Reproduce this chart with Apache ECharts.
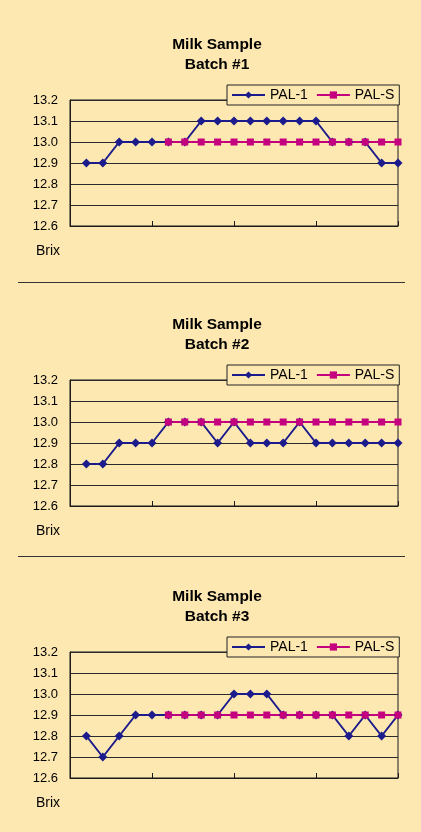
<!DOCTYPE html>
<html>
<head>
<meta charset="utf-8">
<script src="https://cdn.jsdelivr.net/npm/echarts@6/dist/echarts.min.js"></script>
<style>
html,body{margin:0;padding:0;background:#FEE8B2;}
#c{width:421px;height:832px;}
</style>
</head>
<body>
<div id="c"></div>
<script>
// ---- data ----
const samples = [1,2,3,4,5,6,7,8,9,10,11,12,13,14,15,16,17,18,19,20];
const seriesNames = ['PAL-1', 'PAL-S'];
const chartTitles = ['Milk Sample\nBatch #1', 'Milk Sample\nBatch #2', 'Milk Sample\nBatch #3'];
const yAxisName = 'Brix';
const yMin = 12.6;
const yMax = 13.2;
const yStep = 0.1;

const batch1Pal1 = [12.9,12.9,13.0,13.0,13.0,13.0,13.0,13.1,13.1,13.1,13.1,13.1,13.1,13.1,13.1,13.0,13.0,13.0,12.9,12.9];
const batch1PalS = [null,null,null,null,null,13.0,13.0,13.0,13.0,13.0,13.0,13.0,13.0,13.0,13.0,13.0,13.0,13.0,13.0,13.0];
const batch2Pal1 = [12.8,12.8,12.9,12.9,12.9,13.0,13.0,13.0,12.9,13.0,12.9,12.9,12.9,13.0,12.9,12.9,12.9,12.9,12.9,12.9];
const batch2PalS = [null,null,null,null,null,13.0,13.0,13.0,13.0,13.0,13.0,13.0,13.0,13.0,13.0,13.0,13.0,13.0,13.0,13.0];
const batch3Pal1 = [12.8,12.7,12.8,12.9,12.9,12.9,12.9,12.9,12.9,13.0,13.0,13.0,12.9,12.9,12.9,12.9,12.8,12.9,12.8,12.9];
const batch3PalS = [null,null,null,null,null,12.9,12.9,12.9,12.9,12.9,12.9,12.9,12.9,12.9,12.9,12.9,12.9,12.9,12.9,12.9];

const pal1Sets = [batch1Pal1, batch2Pal1, batch3Pal1];
const palSSets = [batch1PalS, batch2PalS, batch3PalS];

// ---- layout / style ----
const BG = '#FEE8B2';
const FONT = '"Liberation Sans", Arial, sans-serif';
const gridTops = [100, 380, 652];
const gridH = 126;
const NAVY = '#1B1B8C';
const MAGENTA = '#C4007F';

const toPairs = arr => samples.map((s, k) => [s, arr[k]]).filter(p => p[1] !== null);

const option = {
  backgroundColor: BG,
  animation: false,
  title: chartTitles.map((t, i) => ({
    text: t,
    left: 212,
    top: gridTops[i] - 70,
    textAlign: 'center',
    textVerticalAlign: 'top',
    textStyle: { fontFamily: FONT, fontSize: 15.5, fontWeight: 'bold', color: '#000', lineHeight: 20 }
  })),
  legend: chartTitles.map((t, i) => ({
    data: seriesNames,
    left: 227,
    top: gridTops[i] - 15,
    orient: 'horizontal',
    itemWidth: 33,
    itemHeight: 9,
    itemGap: 8,
    padding: [3, 5, 3, 4],
    borderColor: '#222',
    borderWidth: 1,
    backgroundColor: BG,
    selectedMode: false,
    textStyle: { fontFamily: FONT, fontSize: 14, color: '#000' }
  })),
  grid: gridTops.map(top => ({
    left: 70, right: 23, top: top, height: gridH,
    show: true, borderColor: '#1a1a1a', borderWidth: 1, backgroundColor: 'transparent'
  })),
  xAxis: gridTops.map((_, i) => ({
    type: 'value', gridIndex: i, min: 0, max: 20, interval: 5,
    axisLine: { show: true, lineStyle: { color: '#1a1a1a', width: 1 } },
    axisTick: { show: true, inside: true, length: 5, lineStyle: { color: '#1a1a1a' } },
    axisLabel: { show: false },
    splitLine: { show: false }
  })),
  yAxis: gridTops.map((_, i) => ({
    type: 'value', gridIndex: i, min: yMin, max: yMax, interval: yStep,
    name: yAxisName,
    nameLocation: 'start',
    nameGap: 25,
    nameTextStyle: { fontFamily: FONT, fontSize: 14, color: '#000', align: 'right', verticalAlign: 'middle', padding: [0, 10, 0, 0] },
    axisLine: { show: true, lineStyle: { color: '#1a1a1a', width: 1 } },
    axisTick: { show: false },
    axisLabel: { fontFamily: FONT, fontSize: 13, color: '#000', margin: 12, formatter: v => v.toFixed(1) },
    splitLine: { show: true, lineStyle: { color: '#2a2a2a', width: 1 } }
  })),
  series: [].concat(...gridTops.map((_, i) => [
    {
      name: seriesNames[0], type: 'line', xAxisIndex: i, yAxisIndex: i,
      data: toPairs(pal1Sets[i]),
      symbol: 'diamond', symbolSize: 9, color: NAVY,
      lineStyle: { width: 2, color: NAVY }, itemStyle: { color: NAVY }
    },
    {
      name: seriesNames[1], type: 'line', xAxisIndex: i, yAxisIndex: i,
      data: toPairs(palSSets[i]),
      symbol: 'rect', symbolSize: 7, color: MAGENTA,
      lineStyle: { width: 2, color: MAGENTA }, itemStyle: { color: MAGENTA }
    }
  ])),
  graphic: [
    { type: 'line', shape: { x1: 18, y1: 282.5, x2: 405, y2: 282.5 }, style: { stroke: '#333', lineWidth: 1 } },
    { type: 'line', shape: { x1: 18, y1: 556.5, x2: 405, y2: 556.5 }, style: { stroke: '#333', lineWidth: 1 } }
  ]
};

const chart = echarts.init(document.getElementById('c'), null, { renderer: 'canvas' });
chart.setOption(option);
</script>
</body>
</html>
